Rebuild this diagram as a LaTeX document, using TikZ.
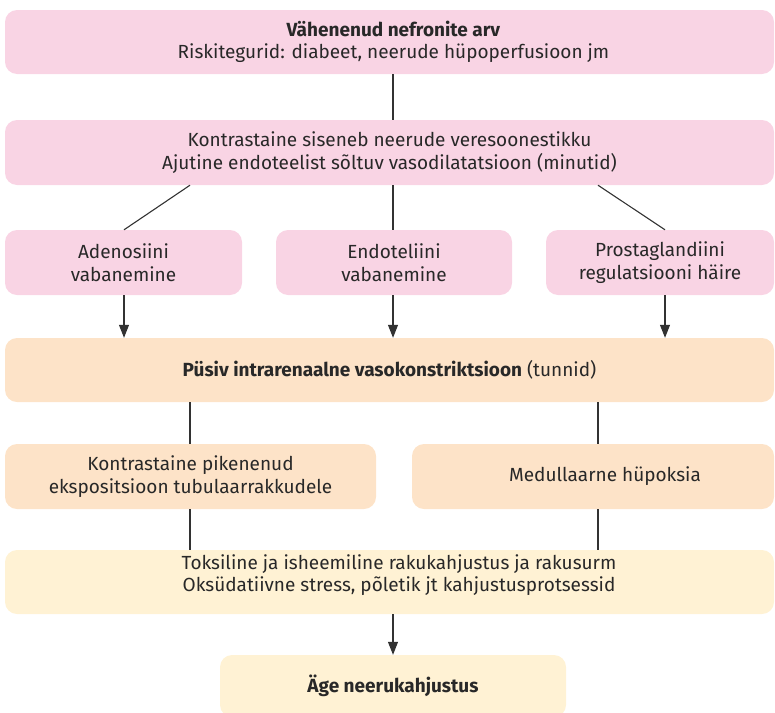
\documentclass[tikz,border=0pt]{standalone}
\usepackage{fontspec}
\setmainfont{Fira Sans}
\usetikzlibrary{arrows.meta}
\definecolor{pinkbox}{RGB}{249,212,228}
\definecolor{peachbox}{RGB}{253,227,200}
\definecolor{yellowbox}{RGB}{255,242,212}
\definecolor{ink}{RGB}{40,40,40}
\definecolor{linecol}{RGB}{50,50,50}
\begin{document}
\begin{tikzpicture}[x=1pt,y=-1pt,
  box/.style={rectangle, rounded corners=12pt, inner sep=0pt, align=center,
    text=ink, font=\fontsize{19}{22.5}\selectfont},
  txt/.style={inner sep=0pt, align=center, text=ink, font=\fontsize{19}{22.5}\selectfont},
  pinkb/.style={box, fill=pinkbox},
  peachb/.style={box, fill=peachbox},
  yellowb/.style={box, fill=yellowbox},
  conn/.style={draw=linecol, line width=1.1pt},
  arr/.style={conn, -{Triangle[length=13pt,width=10pt]}}]
\useasboundingbox (0,0) rectangle (775,712);
% boxes
\node[pinkb, minimum width=769pt, minimum height=64pt] (b1) at (389.5,42)
  {\hspace*{8pt}\textbf{Vähenenud nefronite arv}\\\hspace*{8pt}Riskitegurid: diabeet, neerude hüpoperfusioon jm};
\node[pinkb, minimum width=769pt, minimum height=65pt] (b2) at (389.5,152.5)
  {Kontrastaine siseneb neerude veresoonestikku\\Ajutine endoteelist sõltuv vasodilatatsioon (minutid)};
\node[pinkb, minimum width=237pt, minimum height=65pt] (b3a) at (123.5,262.5)
  {Adenosiini\\vabanemine};
\node[pinkb, minimum width=236pt, minimum height=65pt] (b3b) at (394,262.5)
  {Endoteliini\\vabanemine};
\node[pinkb, minimum width=228pt, minimum height=65pt] (b3c) at (660,262.5)
  {Prostaglandiini\\regulatsiooni häire};
\node[peachb, minimum width=769pt, minimum height=64pt] (b4) at (389.5,370)
  {\textbf{Püsiv intrarenaalne vasokonstriktsioon} (tunnid)};
\node[peachb, minimum width=371pt, minimum height=65pt] (b5a) at (190.5,476.5)
  {Kontrastaine pikenenud\\ekspositsioon tubulaarrakkudele};
\node[peachb, minimum width=362pt, minimum height=65pt] (b5b) at (593,476.5)
  {\hspace*{24pt}Medullaarne hüpoksia};
\node[yellowb, minimum width=769pt, minimum height=64pt] (b6) at (389.5,582) {};
\node[txt] (b6t) at (399,575)
  {Toksiline ja isheemiline rakukahjustus ja rakusurm\\Oksüdatiivne stress, põletik jt kahjustusprotsessid};
\node[yellowb, minimum width=346pt, minimum height=62pt] (b7) at (393,686)
  {\textbf{Äge neerukahjustus}};
% connector x positions
\coordinate (cl) at (190,0);
\coordinate (cr) at (598,0);
\coordinate (cc) at (393,0);
\coordinate (cpr) at (665,0);
\coordinate (cpl) at (124,0);
% connectors
\draw[conn] (b1.south -| cc) -- (b2.north -| cc);
\draw[conn] (b2.south -| cl) -- (b3a.north -| cpl);
\draw[conn] (b2.south -| cc) -- (b3b.north -| cc);
\draw[conn] (b2.south -| cr) -- (b3c.north -| cpr);
\draw[arr] (b3a.south -| cpl) -- (b4.north -| cpl);
\draw[arr] (b3b.south -| cc) -- (b4.north -| cc);
\draw[arr] (b3c.south -| cpr) -- (b4.north -| cpr);
\draw[conn] (b4.south -| cl) -- (b5a.north -| cl);
\draw[conn] (b4.south -| cr) -- (b5b.north -| cr);
\draw[conn] (b5a.south -| cl) -- (b6.north -| cl);
\draw[conn] (b5b.south -| cr) -- (b6.north -| cr);
\draw[arr] (b6.south -| cc) -- (b7.north -| cc);
\end{tikzpicture}
\end{document}
